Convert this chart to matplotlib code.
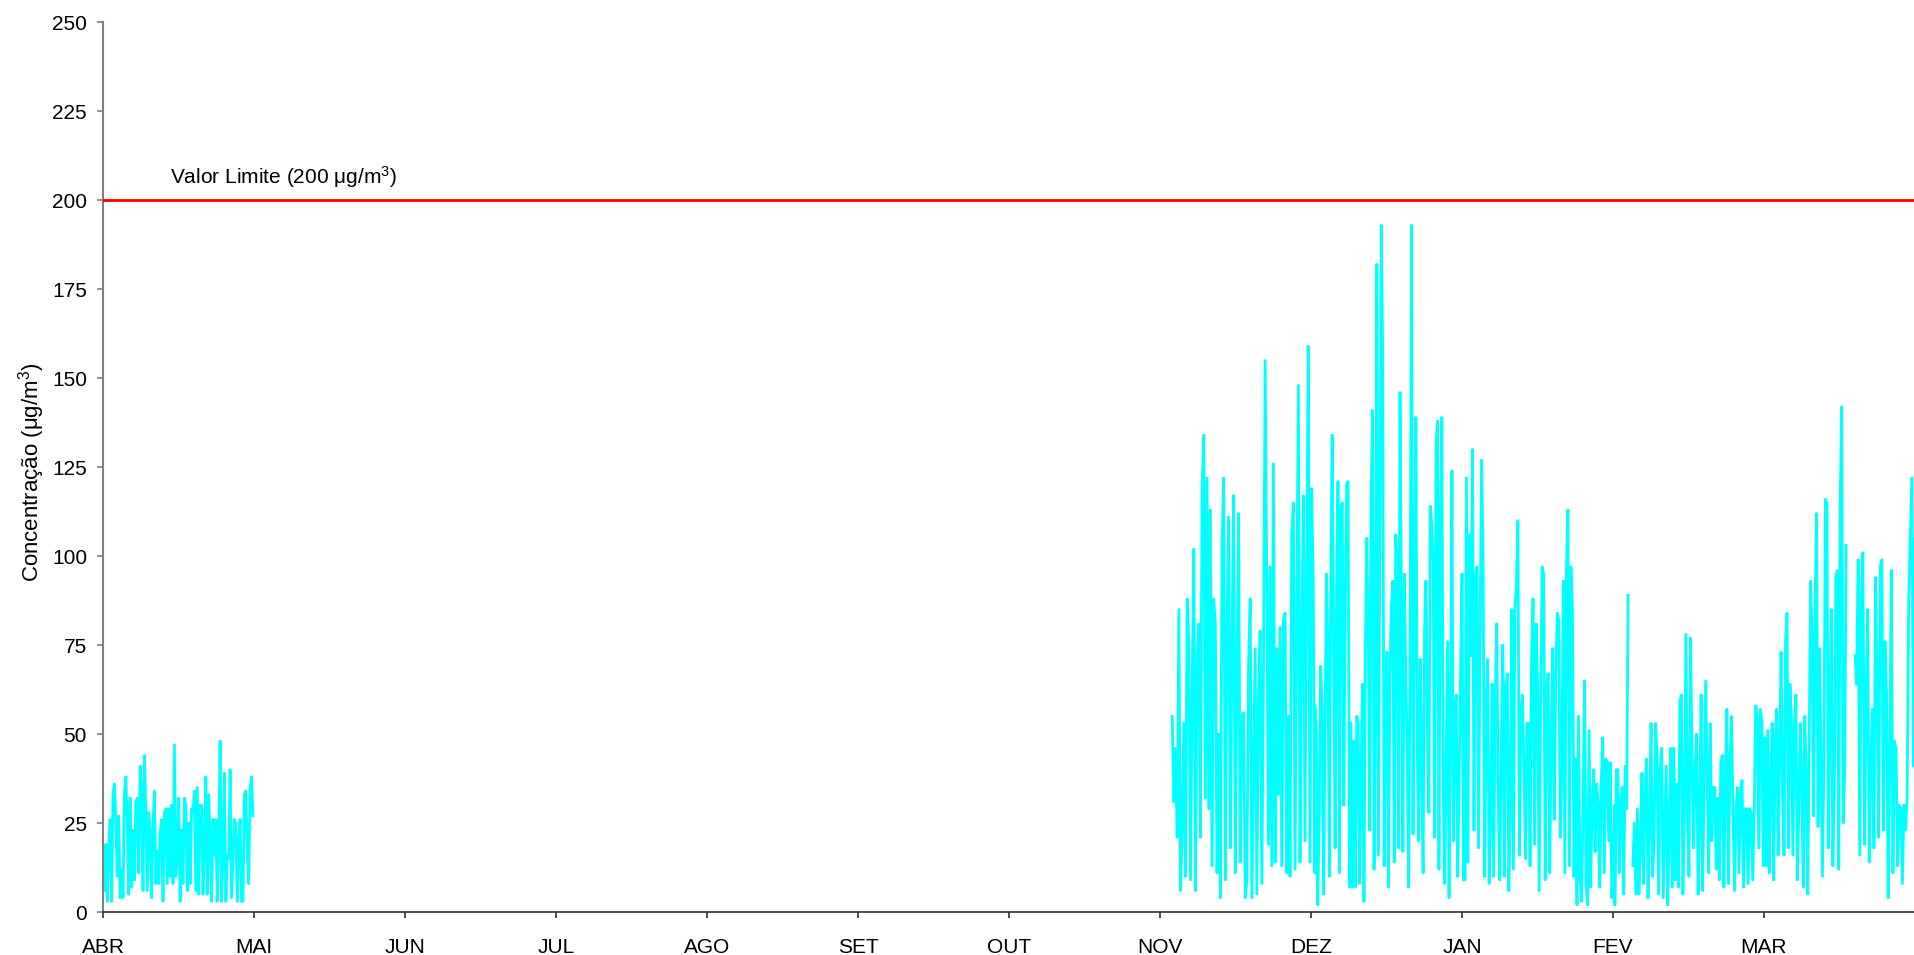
import numpy as np
import matplotlib
matplotlib.use('Agg')
import matplotlib.pyplot as plt

plt.rcParams['font.family'] = ['Liberation Sans', 'DejaVu Sans']
plt.rcParams['mathtext.fontset'] = 'custom'
plt.rcParams['mathtext.rm'] = 'Liberation Sans'
plt.rcParams['mathtext.it'] = 'Liberation Sans:italic'

# Month labels (one tick every 730 hourly records, i.e. 8760 / 12)
months = ['ABR', 'MAI', 'JUN', 'JUL', 'AGO', 'SET', 'OUT', 'NOV', 'DEZ', 'JAN', 'FEV', 'MAR']
hours_per_month = 730
total_hours = 8760
limit_value = 200

# Hourly concentrations (ug/m3) read off the chart, per measured stretch
# (start hour, end hour) of each stretch
abr_span = (0, 725)
abr_vals = [10, 6, 19, 3, 18, 26, 3, 33, 36, 25, 10, 27, 4, 12, 4, 33, 38, 25, 5, 32,
            7, 23, 9, 31, 32, 11, 41, 34, 6, 44, 29, 6, 28, 23, 4, 25, 34, 8, 17, 8,
            22, 26, 3, 28, 29, 8, 29, 10, 30, 8, 47, 10, 16, 32, 3, 23, 8, 32, 30, 6,
            25, 8, 29, 28, 34, 6, 35, 5, 30, 30, 5, 19, 38, 5, 33, 20, 3, 26, 16, 26,
            3, 20, 48, 3, 17, 39, 3, 16, 15, 40, 4, 15, 26, 25, 3, 19, 26, 3, 3, 33,
            34, 17, 8, 35, 38, 27]

nov_span = (5169, 5859)
nov_vals = [55, 31, 46, 21, 85, 6, 23, 53, 10, 88, 75, 9, 61, 102, 6, 70, 81, 21, 119, 134,
            32, 122, 29, 113, 13, 88, 81, 11, 50, 4, 102, 122, 9, 78, 111, 18, 73, 117, 11, 68,
            112, 14, 55, 56, 4, 9, 69, 88, 4, 38, 74, 5, 60, 79, 8, 68, 155, 93, 19, 97,
            13, 126, 14, 74, 33, 80, 13, 82, 84, 11, 55, 10, 106, 115, 12, 80, 148, 14, 72, 117,
            20, 96, 159, 14, 119, 92, 11]

dez_span = (5859, 6584)
dez_vals = [58, 50, 2, 28, 69, 57, 5, 52, 95, 74, 10, 92, 134, 73, 18, 90, 121, 11, 114, 115,
            30, 85, 120, 121, 7, 53, 7, 48, 7, 55, 53, 8, 39, 64, 3, 75, 105, 80, 23, 117,
            141, 12, 61, 182, 16, 106, 193, 156, 13, 57, 73, 7, 65, 86, 93, 14, 106, 98, 18, 146,
            84, 17, 95, 66, 45, 7, 74, 193, 22, 89, 139, 45, 20, 71, 44, 11, 79, 93, 52, 28,
            114, 109, 98, 21, 131, 138, 12, 109, 139, 35, 8, 43, 76, 4, 53, 124, 20, 56, 61, 10,
            37, 68, 95, 9, 50]

jan_span = (6584, 7309)
jan_vals = [9, 122, 14, 106, 72, 130, 23, 95, 97, 18, 76, 127, 99, 10, 58, 71, 8, 26, 64, 10,
            58, 81, 33, 9, 44, 75, 10, 64, 67, 6, 31, 85, 12, 85, 92, 110, 16, 55, 61, 40,
            15, 53, 53, 13, 71, 88, 19, 81, 64, 6, 59, 97, 95, 9, 63, 67, 11, 48, 74, 26,
            66, 84, 82, 21, 43, 93, 11, 96, 113, 13, 97, 85, 10, 43, 2, 55, 10, 3, 29, 65,
            8, 2, 51, 7, 29, 40, 17, 36, 30, 7, 36, 49, 11, 43, 42, 20, 42, 4, 15, 30]

fev_a_span = (7309, 7373)
fev_a_vals = [2, 40, 40, 11, 31, 35, 5, 41, 29, 89]

fev_b_span = (7396, 8034)
fev_b_vals = [13, 25, 5, 29, 5, 19, 39, 8, 33, 43, 4, 26, 53, 10, 21, 53, 44, 5, 40, 46,
              4, 22, 41, 2, 23, 46, 7, 46, 9, 36, 7, 59, 61, 5, 29, 78, 27, 10, 77, 44,
              18, 40, 50, 5, 26, 61, 6, 38, 65, 39, 11, 53, 20, 35, 35, 12, 32, 9, 42, 44,
              7, 37, 57, 8, 41, 55, 29, 6, 29, 35, 11, 34, 37, 7, 29, 29, 8, 29, 28, 9,
              28, 58, 55, 18, 57, 54, 13, 43]

mar_a_span = (8034, 8427)
mar_a_vals = [49, 13, 51, 11, 36, 53, 9, 46, 57, 16, 46, 73, 33, 16, 76, 84, 18, 64, 54, 16,
              52, 61, 9, 29, 53, 36, 7, 55, 39, 5, 45, 93, 77, 27, 87, 112, 24, 74, 46, 10,
              44, 116, 115, 18, 60, 85, 13, 36, 94, 96, 12, 115, 142, 25, 39, 103]

mar_b_span = (8470, 8760)
mar_b_vals = [72, 64, 99, 16, 87, 101, 19, 57, 85, 14, 39, 57, 18, 94, 62, 21, 97, 99, 23, 76,
              61, 4, 42, 96, 11, 48, 46, 13, 30, 29, 8, 30, 23, 32, 87, 104, 122, 41, 105]

segments = [(abr_span, abr_vals), (nov_span, nov_vals), (dez_span, dez_vals),
            (jan_span, jan_vals), (fev_a_span, fev_a_vals), (fev_b_span, fev_b_vals),
            (mar_a_span, mar_a_vals), (mar_b_span, mar_b_vals)]

fig = plt.figure(figsize=(19.15, 9.55), dpi=100)
ax = fig.add_axes([103 / 1915, 1 - 912 / 955, 1 - 103 / 1915, (912 - 22.5) / 955])

# join consecutive stretches, leaving gaps between stretches that do not touch
xs, ys = [], []
prev_end = None
for (start, end), vals in segments:
    if prev_end is not None and start != prev_end:
        xs.append(np.nan)
        ys.append(np.nan)
    xs.extend(np.linspace(start, end, len(vals)))
    ys.extend(vals)
    prev_end = end

ax.plot(xs, ys, color='#00FFFF', linewidth=2.0, zorder=2)
ax.axhline(limit_value, color='#FF0000', linewidth=2.0, zorder=3)
ax.text(324, limit_value + 2.8, 'Valor Limite (200 μg/m$^{3}$)', fontsize=15,
        ha='left', va='bottom')

ax.set_xlim(0, total_hours)
ax.set_ylim(0, 250)
ax.set_yticks(np.arange(0, 251, 25))
ax.set_xticks(np.arange(len(months)) * hours_per_month)
ax.set_xticklabels(months)

ax.set_ylabel('Concentração (μg/m$^{3}$)', fontsize=16)
ax.yaxis.set_label_coords(-0.031, 0.494)

for s in ['top', 'right']:
    ax.spines[s].set_visible(False)
ax.spines['left'].set_color('#808080')
ax.spines['left'].set_linewidth(1.5)
ax.spines['bottom'].set_color('#303030')
ax.spines['bottom'].set_linewidth(1.2)
ax.tick_params(axis='y', direction='out', length=4.5, width=1.2, color='#808080',
               labelsize=15, pad=7)
ax.tick_params(axis='x', direction='out', length=4.5, width=1.2, color='#303030',
               labelsize=15, pad=14)

fig.savefig('out.png', dpi=100)
